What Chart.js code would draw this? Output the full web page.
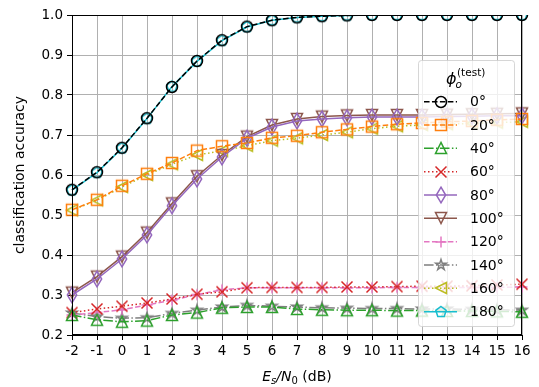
<!DOCTYPE html>
<html>
<head>
<meta charset="utf-8">
<script src="https://cdn.jsdelivr.net/npm/chart.js@4/dist/chart.umd.min.js"></script>
<style>
  html, body { margin: 0; padding: 0; background: #fff; }
  #wrap { width: 539px; height: 387px; }
</style>
</head>
<body>
<div id="wrap"><canvas id="c" width="539" height="387"></canvas></div>
<script>
// SNR grid (dB) and tick labels
const snrLabels = ['-2','-1','0','1','2','3','4','5','6','7','8','9','10','11','12','13','14','15','16'];
const yTicks = [0.2, 0.3, 0.4, 0.5, 0.6, 0.7, 0.8, 0.9, 1.0];

// classification accuracy per test angle
const acc0   = [0.563,0.607,0.668,0.742,0.820,0.885,0.937,0.971,0.987,0.994,0.997,0.999,1.000,1.000,1.000,1.000,1.000,1.000,1.000];
const acc20  = [0.513,0.538,0.573,0.603,0.630,0.661,0.672,0.680,0.693,0.698,0.707,0.714,0.721,0.727,0.730,0.733,0.735,0.738,0.740];
const acc40  = [0.250,0.238,0.233,0.236,0.250,0.256,0.268,0.270,0.270,0.265,0.263,0.262,0.262,0.261,0.261,0.260,0.260,0.259,0.258];
const acc60  = [0.256,0.265,0.272,0.280,0.290,0.302,0.308,0.318,0.319,0.319,0.319,0.320,0.320,0.321,0.322,0.322,0.323,0.325,0.327];
const acc80  = [0.300,0.340,0.390,0.450,0.523,0.590,0.645,0.692,0.720,0.735,0.740,0.743,0.745,0.745,0.745,0.746,0.747,0.748,0.748];
const acc100 = [0.306,0.346,0.396,0.456,0.529,0.597,0.650,0.696,0.725,0.740,0.746,0.749,0.750,0.750,0.750,0.751,0.752,0.753,0.754];
const acc120 = [0.250,0.256,0.263,0.275,0.287,0.301,0.313,0.318,0.318,0.318,0.318,0.318,0.318,0.319,0.319,0.319,0.319,0.319,0.320];
const acc140 = [0.255,0.246,0.242,0.243,0.254,0.262,0.270,0.274,0.272,0.270,0.268,0.267,0.266,0.266,0.265,0.265,0.264,0.263,0.262];
const acc160 = [0.512,0.537,0.570,0.600,0.627,0.650,0.660,0.673,0.686,0.692,0.700,0.707,0.716,0.722,0.725,0.727,0.729,0.731,0.733];
const acc180 = [0.562,0.606,0.667,0.741,0.821,0.884,0.936,0.970,0.987,0.994,0.997,0.999,1.000,1.000,1.000,1.000,1.000,1.000,1.000];

const angleNames = ['0°','20°','40°','60°','80°','100°','120°','140°','160°','180°'];
const seriesValues = [acc0, acc20, acc40, acc60, acc80, acc100, acc120, acc140, acc160, acc180];
const colors = ['#000000','#ff7f0e','#2ca02c','#d62728','#9467bd','#8c564b','#e377c2','#7f7f7f','#bcbd22','#17becf'];
const markers = ['circle','square','triUp','x','thinDiamond','triDown','plus','star','triLeft','pentagon'];

const LW = 1.5;
const DASH = { solid: [], dashed: [5.55, 2.4], dashdot: [9.6, 2.4, 1.5, 2.4], dotted: [1.5, 2.5] };
const lineStyles = ['dashed','dashed','dashdot','dotted','solid','solid','dashed','dashdot','dotted','solid'];

const MS = 11;

// hollow marker sprites
function markerCanvas(shape, color) {
  const size = 22;
  const cv = document.createElement('canvas');
  cv.width = size; cv.height = size;
  const g = cv.getContext('2d');
  g.translate(size / 2, size / 2);
  g.strokeStyle = color;
  g.lineWidth = LW;
  g.lineJoin = 'miter';
  const h = MS / 2;
  g.beginPath();
  switch (shape) {
    case 'circle': g.arc(0, 0, h, 0, Math.PI * 2); break;
    case 'square': g.rect(-h, -h, MS, MS); break;
    case 'triUp': g.moveTo(0, -h); g.lineTo(-h, h); g.lineTo(h, h); g.closePath(); break;
    case 'triDown': g.moveTo(0, h); g.lineTo(-h, -h); g.lineTo(h, -h); g.closePath(); break;
    case 'triLeft': g.moveTo(-h, 0); g.lineTo(h, -h); g.lineTo(h, h); g.closePath(); break;
    case 'x': g.moveTo(-h, -h); g.lineTo(h, h); g.moveTo(-h, h); g.lineTo(h, -h); break;
    case 'plus': g.moveTo(-h, 0); g.lineTo(h, 0); g.moveTo(0, -h); g.lineTo(0, h); break;
    case 'thinDiamond': {
      const r = MS * Math.SQRT1_2;
      g.moveTo(0, -r); g.lineTo(0.6 * r, 0); g.lineTo(0, r); g.lineTo(-0.6 * r, 0); g.closePath();
      break;
    }
    case 'star': {
      const ri = h * 0.381966;
      for (let i = 0; i < 10; i++) {
        const a = -Math.PI / 2 + i * Math.PI / 5;
        const rr = i % 2 === 0 ? h : ri;
        const px = rr * Math.cos(a), py = rr * Math.sin(a);
        if (i === 0) g.moveTo(px, py); else g.lineTo(px, py);
      }
      g.closePath();
      break;
    }
    case 'pentagon': {
      for (let i = 0; i < 5; i++) {
        const a = -Math.PI / 2 + i * 2 * Math.PI / 5;
        const px = h * Math.cos(a), py = h * Math.sin(a);
        if (i === 0) g.moveTo(px, py); else g.lineTo(px, py);
      }
      g.closePath();
      break;
    }
  }
  g.stroke();
  return cv;
}

const sprites = markers.map((m, i) => markerCanvas(m, colors[i]));

const datasets = seriesValues.map((vals, i) => ({
  label: angleNames[i],
  data: vals,
  borderColor: colors[i],
  borderWidth: LW,
  borderDash: DASH[lineStyles[i]],
  backgroundColor: 'transparent',
  fill: false,
  tension: 0,
  pointStyle: sprites[i],
  pointRadius: 6,
  pointHoverRadius: 6
}));

const FONT = 'DejaVu Sans';
const PLOT = { left: 72, right: 522, top: 15, bottom: 335 };

// frame, axis titles and legend box
const decor = {
  id: 'decor',
  afterDatasetsDraw(chart) {
    const ctx = chart.ctx;
    const a = chart.chartArea;
    ctx.save();
    // axes frame
    ctx.strokeStyle = '#000';
    ctx.lineWidth = 1;
    ctx.setLineDash([]);
    ctx.strokeRect(Math.round(a.left) + 0.5, Math.round(a.top) + 0.5, Math.round(a.right - a.left) - 1, Math.round(a.bottom - a.top) - 1);

    // legend box
    const lx = 418.5, ly = 60.5, lw = 96, lh = 266;
    ctx.beginPath();
    if (ctx.roundRect) ctx.roundRect(lx, ly, lw, lh, 3); else ctx.rect(lx, ly, lw, lh);
    ctx.fillStyle = 'rgba(255,255,255,0.8)';
    ctx.fill();
    ctx.strokeStyle = 'rgba(204,204,204,0.8)';
    ctx.lineWidth = 1;
    ctx.stroke();

    // legend title: phi_o^(test)
    ctx.fillStyle = '#000';
    ctx.textBaseline = 'alphabetic';
    ctx.textAlign = 'left';
    ctx.font = 'italic 16px "' + FONT + '"';
    ctx.fillText('ϕ', 446, 84);
    ctx.font = 'italic 10.5px "' + FONT + '"';
    ctx.fillText('o', 455.5, 88);
    ctx.font = '10.5px "' + FONT + '"';
    ctx.fillText('(test)', 457, 76);

    // legend entries
    const y0 = 101.7, dy = 23.33;
    for (let i = 0; i < angleNames.length; i++) {
      const y = y0 + i * dy;
      ctx.beginPath();
      ctx.strokeStyle = colors[i];
      ctx.lineWidth = LW;
      ctx.setLineDash(DASH[lineStyles[i]]);
      ctx.moveTo(424, y);
      ctx.lineTo(457, y);
      ctx.stroke();
      ctx.setLineDash([]);
      ctx.drawImage(sprites[i], 441 - sprites[i].width / 2, Math.round(y) - sprites[i].height / 2);
      ctx.fillStyle = '#000';
      ctx.font = '14px "' + FONT + '"';
      ctx.textBaseline = 'middle';
      ctx.fillText(angleNames[i], 470, y + 1);
    }

    // x-axis title: E_s/N_0 (dB)
    ctx.textBaseline = 'alphabetic';
    const parts = [
      { t: 'E', f: 'italic 14px', dy: 0 },
      { t: 's', f: 'italic 10px', dy: 3 },
      { t: '/', f: 'italic 14px', dy: 0 },
      { t: 'N', f: 'italic 14px', dy: 0 },
      { t: '0', f: '10px', dy: 3 },
      { t: ' (dB)', f: '14px', dy: 0 }
    ];
    let total = 0;
    parts.forEach(p => { ctx.font = p.f + ' "' + FONT + '"'; p.w = ctx.measureText(p.t).width; total += p.w; });
    let x = (a.left + a.right) / 2 - total / 2;
    const by = 381;
    parts.forEach(p => { ctx.font = p.f + ' "' + FONT + '"'; ctx.fillText(p.t, x, by + p.dy); x += p.w; });

    // y-axis title
    ctx.save();
    ctx.translate(20, (a.top + a.bottom) / 2);
    ctx.rotate(-Math.PI / 2);
    ctx.font = '14px "' + FONT + '"';
    ctx.textAlign = 'center';
    ctx.textBaseline = 'middle';
    ctx.fillText('classification accuracy', 0, 0);
    ctx.restore();

    ctx.restore();
  }
};

new Chart(document.getElementById('c'), {
  type: 'line',
  data: { labels: snrLabels, datasets },
  options: {
    responsive: false,
    animation: false,
    devicePixelRatio: 1,
    layout: { padding: { left: 0, right: 539 - PLOT.right, top: PLOT.top, bottom: 0 } },
    plugins: { legend: { display: false }, tooltip: { enabled: false } },
    scales: {
      x: {
        type: 'category',
        offset: false,
        afterFit(s) { s.height = 387 - PLOT.bottom; },
        grid: { color: '#b0b0b0', lineWidth: 1, tickColor: '#000', tickLength: 5, drawOnChartArea: true },
        border: { display: true, color: '#000', width: 1 },
        ticks: { color: '#000', font: { family: FONT, size: 13.5 }, padding: 3, maxRotation: 0, autoSkip: false }
      },
      y: {
        min: 0.2,
        max: 1.0,
        afterFit(s) { s.width = PLOT.left; },
        afterBuildTicks(s) { s.ticks = yTicks.map(v => ({ value: v })); },
        grid: { color: '#b0b0b0', lineWidth: 1, tickColor: '#000', tickLength: 5 },
        border: { display: true, color: '#000', width: 1 },
        ticks: { color: '#000', font: { family: FONT, size: 13.5 }, padding: 4, callback: v => Number(v).toFixed(1) }
      }
    }
  },
  plugins: [decor]
});
</script>
</body>
</html>
